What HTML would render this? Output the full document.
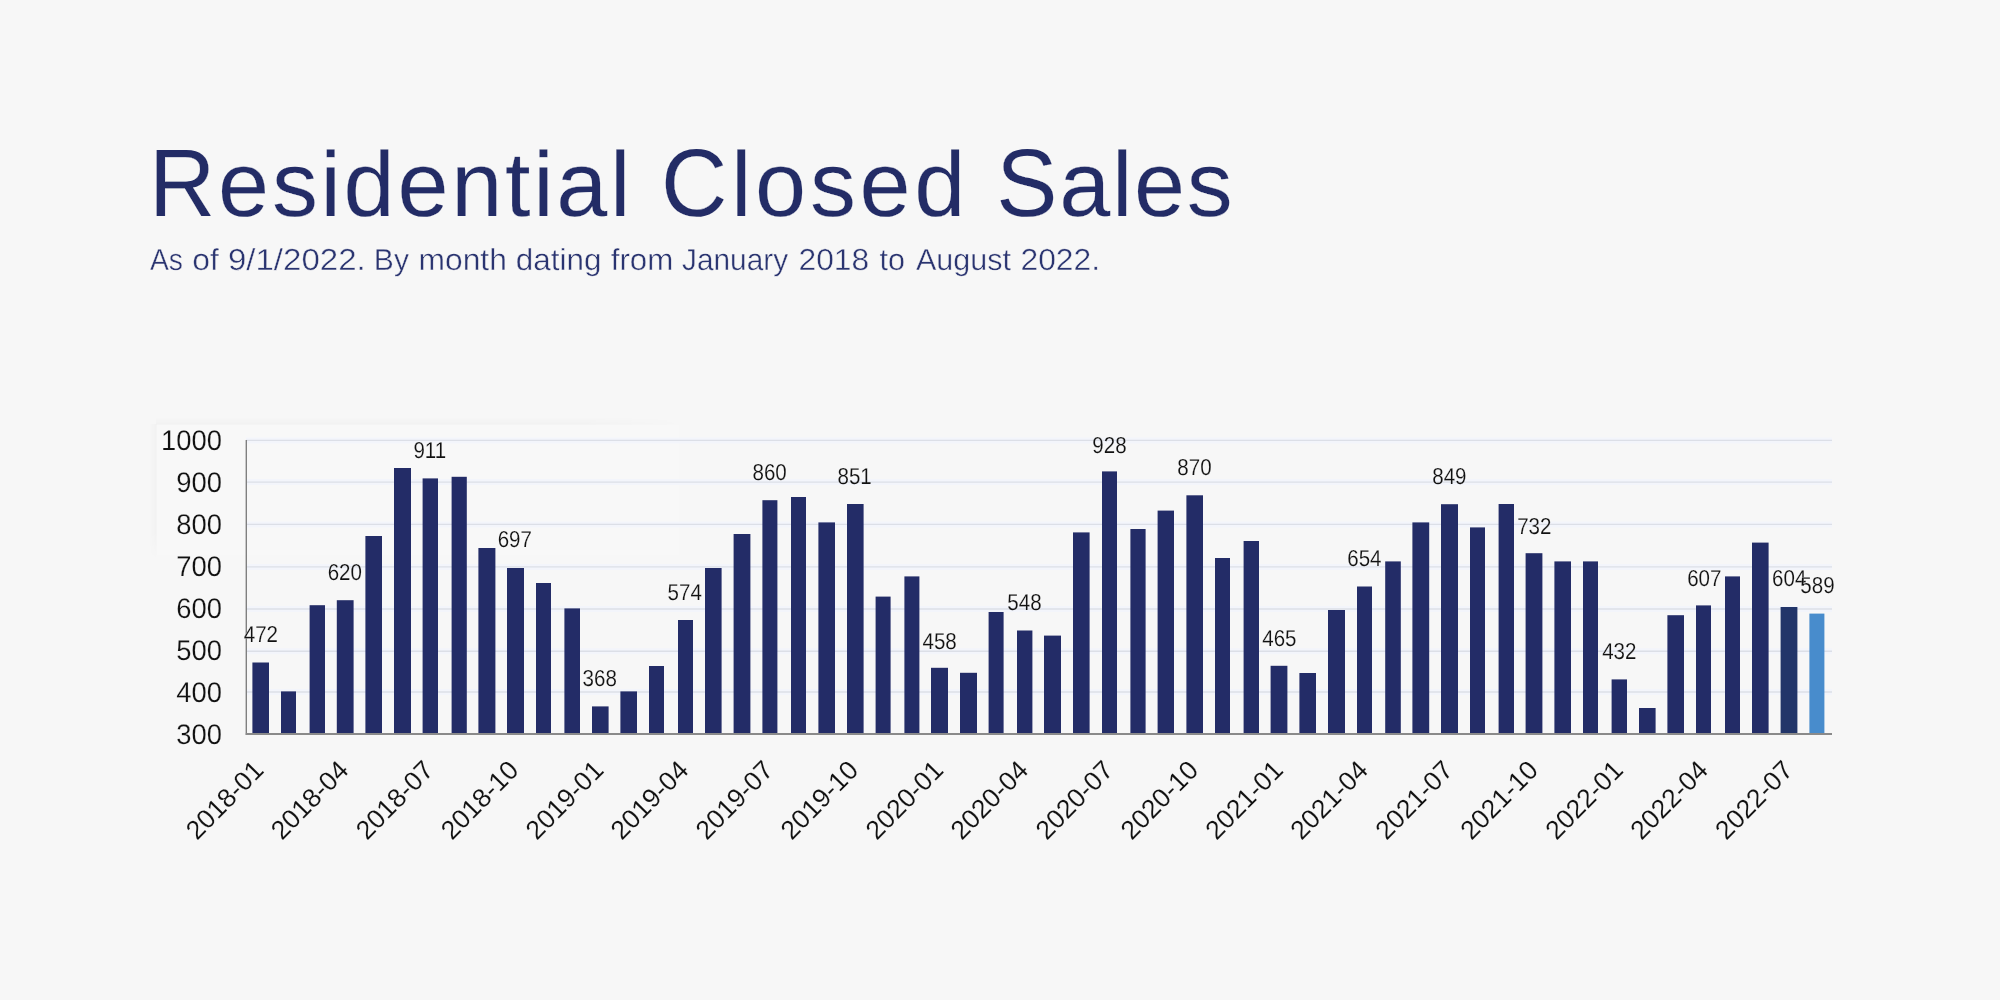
<!DOCTYPE html>
<html lang="en">
<head>
<meta charset="utf-8">
<title>Residential Closed Sales</title>
<style>
html,body{margin:0;padding:0;background:#f7f7f7;}
body{width:2000px;height:1000px;overflow:hidden;position:relative;font-family:"Liberation Sans",sans-serif;}
svg{position:absolute;left:0;top:0;display:block;will-change:transform;filter:blur(0.35px);}
text{font-family:"Liberation Sans",sans-serif;text-rendering:geometricPrecision;}
.title{font-size:91.8px;fill:#232c66;stroke:#f7f7f7;stroke-width:0.2px;}
.sub{font-size:30px;fill:#2a3470;stroke:#f7f7f7;stroke-width:0.4px;}
.ylab{font-size:27.4px;fill:#111;text-anchor:end;stroke:#f7f7f7;stroke-width:0.2px;}
.xlab{font-size:26.5px;fill:#111;text-anchor:end;stroke:#f7f7f7;stroke-width:0.1px;}
.dlab{font-size:23px;fill:#111;text-anchor:middle;stroke:#f7f7f7;stroke-width:0.15px;}
.halo line{stroke:#f3f5fb;stroke-width:6px;}
.grid line{stroke:#dcdfe7;stroke-width:1.4px;}
.bars rect{fill:#232c67;}
</style>
</head>
<body>
<svg width="2000" height="1000" viewBox="0 0 2000 1000">
<rect x="0" y="0" width="2000" height="1000" fill="#f7f7f7"/>
<defs><linearGradient id="sh1" x1="0" y1="0" x2="0" y2="1"><stop offset="0" stop-color="#000" stop-opacity="0"/><stop offset="1" stop-color="#000" stop-opacity="0.022"/></linearGradient><linearGradient id="sh2" x1="0" y1="0" x2="1" y2="0"><stop offset="0" stop-color="#000" stop-opacity="0"/><stop offset="1" stop-color="#000" stop-opacity="0.022"/></linearGradient><linearGradient id="fx" x1="0" y1="0" x2="1" y2="0"><stop offset="0" stop-color="#fff" stop-opacity="1"/><stop offset="0.8" stop-color="#fff" stop-opacity="1"/><stop offset="1" stop-color="#fff" stop-opacity="0"/></linearGradient><linearGradient id="fy" x1="0" y1="0" x2="0" y2="1"><stop offset="0" stop-color="#fff" stop-opacity="1"/><stop offset="0.8" stop-color="#fff" stop-opacity="1"/><stop offset="1" stop-color="#fff" stop-opacity="0"/></linearGradient><mask id="mx"><rect x="150" y="410" width="535" height="20" fill="url(#fx)"/></mask><mask id="my"><rect x="145" y="415" width="20" height="145" fill="url(#fy)"/></mask></defs>
<rect x="156" y="417" width="526" height="7.5" fill="url(#sh1)" mask="url(#mx)"/>
<rect x="149" y="424" width="7.5" height="134" fill="url(#sh2)" mask="url(#my)"/>
<rect x="156.5" y="424.5" width="523" height="131" fill="#fff" fill-opacity="0.12"/>
<text class="title" transform="translate(149.10 215.8) scale(1 1.045)">R</text>
<text class="title" transform="translate(218.11 215.8)" letter-spacing="2.72">esidential</text>
<text class="title" transform="translate(660.90 215.8) scale(1 1.045)">C</text>
<text class="title" transform="translate(730.94 215.8)" letter-spacing="3.75">losed</text>
<text class="title" transform="translate(996.30 215.8) scale(1 1.045)">S</text>
<text class="title" transform="translate(1059.18 215.8)" letter-spacing="1.65">ales</text>
<text class="sub" transform="translate(149.97 269.9) scale(0.9440 1.012)">As</text>
<text class="sub" transform="translate(192.22 269.9) scale(1.0617 1.012)">of</text>
<text class="sub" transform="translate(227.95 269.9) scale(1.1012 1.012)">9/1/2022.</text>
<text class="sub" transform="translate(373.85 269.9) scale(1.0009 1.012)">By</text>
<text class="sub" transform="translate(418.50 269.9) scale(1.0601 1.012)">month</text>
<text class="sub" transform="translate(515.76 269.9) scale(1.0474 1.012)">dating</text>
<text class="sub" transform="translate(610.75 269.9) scale(1.0429 1.012)">from</text>
<text class="sub" transform="translate(682.00 269.9) scale(0.9944 1.012)">January</text>
<text class="sub" transform="translate(798.50 269.9) scale(1.0600 1.012)">2018</text>
<text class="sub" transform="translate(879.52 269.9) scale(1.0184 1.012)">to</text>
<text class="sub" transform="translate(916.00 269.9) scale(1.0172 1.012)">August</text>
<text class="sub" transform="translate(1020.50 269.9) scale(1.0600 1.012)">2022.</text>
<g class="halo">
<line x1="246" y1="440.4" x2="1832" y2="440.4"/>
<line x1="246" y1="482.1" x2="1832" y2="482.1"/>
<line x1="246" y1="524.4" x2="1832" y2="524.4"/>
<line x1="246" y1="566.9" x2="1832" y2="566.9"/>
<line x1="246" y1="609.0" x2="1832" y2="609.0"/>
<line x1="246" y1="651.3" x2="1832" y2="651.3"/>
<line x1="246" y1="692.0" x2="1832" y2="692.0"/>
</g>
<g class="grid">
<line x1="246" y1="440.4" x2="1832" y2="440.4"/>
<line x1="246" y1="482.1" x2="1832" y2="482.1"/>
<line x1="246" y1="524.4" x2="1832" y2="524.4"/>
<line x1="246" y1="566.9" x2="1832" y2="566.9"/>
<line x1="246" y1="609.0" x2="1832" y2="609.0"/>
<line x1="246" y1="651.3" x2="1832" y2="651.3"/>
<line x1="246" y1="692.0" x2="1832" y2="692.0"/>
</g>
<g class="bars">
<rect x="252.4" y="662.5" width="16.6" height="72.0"/>
<rect x="281.0" y="691.4" width="15.0" height="43.1"/>
<rect x="309.6" y="605.2" width="15.4" height="129.3"/>
<rect x="336.8" y="600.2" width="16.8" height="134.3"/>
<rect x="365.4" y="536.0" width="16.6" height="198.5"/>
<rect x="394.0" y="468.0" width="17.0" height="266.5"/>
<rect x="422.6" y="478.4" width="15.4" height="256.1"/>
<rect x="451.6" y="476.8" width="15.2" height="257.7"/>
<rect x="478.4" y="548.0" width="17.0" height="186.5"/>
<rect x="507.0" y="568.0" width="17.0" height="166.5"/>
<rect x="536.0" y="583.0" width="15.0" height="151.5"/>
<rect x="564.4" y="608.4" width="15.6" height="126.1"/>
<rect x="592.0" y="706.4" width="16.6" height="28.1"/>
<rect x="620.4" y="691.4" width="16.6" height="43.1"/>
<rect x="649.0" y="666.0" width="15.0" height="68.5"/>
<rect x="678.0" y="620.0" width="15.0" height="114.5"/>
<rect x="705.0" y="568.0" width="16.6" height="166.5"/>
<rect x="733.6" y="534.0" width="16.8" height="200.5"/>
<rect x="762.4" y="500.2" width="15.0" height="234.3"/>
<rect x="791.0" y="497.0" width="15.0" height="237.5"/>
<rect x="818.4" y="522.4" width="16.6" height="212.1"/>
<rect x="847.0" y="504.0" width="16.6" height="230.5"/>
<rect x="875.6" y="596.6" width="15.0" height="137.9"/>
<rect x="904.4" y="576.4" width="15.0" height="158.1"/>
<rect x="931.0" y="667.8" width="17.0" height="66.7"/>
<rect x="960.0" y="672.8" width="17.0" height="61.7"/>
<rect x="988.6" y="612.0" width="15.0" height="122.5"/>
<rect x="1017.0" y="630.5" width="15.4" height="104.0"/>
<rect x="1044.0" y="635.6" width="17.0" height="98.9"/>
<rect x="1073.0" y="532.4" width="16.6" height="202.1"/>
<rect x="1102.0" y="471.4" width="15.0" height="263.1"/>
<rect x="1130.4" y="529.0" width="15.2" height="205.5"/>
<rect x="1157.6" y="510.6" width="16.4" height="223.9"/>
<rect x="1186.4" y="495.3" width="16.6" height="239.2"/>
<rect x="1215.0" y="558.0" width="15.0" height="176.5"/>
<rect x="1243.6" y="541.0" width="15.4" height="193.5"/>
<rect x="1270.6" y="665.8" width="16.8" height="68.7"/>
<rect x="1299.4" y="673.0" width="16.6" height="61.5"/>
<rect x="1328.0" y="610.0" width="17.0" height="124.5"/>
<rect x="1357.0" y="586.5" width="15.0" height="148.0"/>
<rect x="1385.2" y="561.4" width="15.6" height="173.1"/>
<rect x="1412.4" y="522.4" width="16.8" height="212.1"/>
<rect x="1441.0" y="504.2" width="17.0" height="230.3"/>
<rect x="1470.0" y="527.4" width="15.0" height="207.1"/>
<rect x="1498.6" y="504.0" width="15.4" height="230.5"/>
<rect x="1525.6" y="553.2" width="16.8" height="181.3"/>
<rect x="1554.4" y="561.4" width="16.6" height="173.1"/>
<rect x="1583.0" y="561.4" width="15.0" height="173.1"/>
<rect x="1611.6" y="679.4" width="15.4" height="55.1"/>
<rect x="1639.0" y="708.0" width="16.6" height="26.5"/>
<rect x="1667.4" y="615.2" width="16.6" height="119.3"/>
<rect x="1696.0" y="605.4" width="15.0" height="129.1"/>
<rect x="1725.0" y="576.4" width="15.0" height="158.1"/>
<rect x="1752.0" y="542.6" width="16.6" height="191.9"/>
<rect x="1780.6" y="607.0" width="16.8" height="127.5" style="fill:#223569"/>
<rect x="1809.4" y="613.6" width="15.0" height="120.9" style="fill:#488ccc"/>
</g>
<line x1="246.3" y1="440" x2="246.3" y2="735" stroke="#808080" stroke-width="1.4"/>
<line x1="245.8" y1="734" x2="1832" y2="734" stroke="#8a8a8a" stroke-width="1.8"/>
<text class="ylab" transform="translate(221.9 450.1) scale(1 1.035)">1000</text>
<text class="ylab" transform="translate(221.9 492.1) scale(1 1.035)">900</text>
<text class="ylab" transform="translate(221.9 534.1) scale(1 1.035)">800</text>
<text class="ylab" transform="translate(221.9 576.1) scale(1 1.035)">700</text>
<text class="ylab" transform="translate(221.9 618.1) scale(1 1.035)">600</text>
<text class="ylab" transform="translate(221.9 660.1) scale(1 1.035)">500</text>
<text class="ylab" transform="translate(221.9 702.1) scale(1 1.035)">400</text>
<text class="ylab" transform="translate(221.9 744.1) scale(1 1.035)">300</text>
<text class="dlab" transform="translate(260.9 642.0) scale(0.893 1)">472</text>
<text class="dlab" transform="translate(344.8 580.0) scale(0.893 1)">620</text>
<text class="dlab" transform="translate(429.8 458.0) scale(0.893 1)">911</text>
<text class="dlab" transform="translate(514.8 547.0) scale(0.893 1)">697</text>
<text class="dlab" transform="translate(599.7 686.0) scale(0.893 1)">368</text>
<text class="dlab" transform="translate(684.7 600.0) scale(0.893 1)">574</text>
<text class="dlab" transform="translate(769.6 480.0) scale(0.893 1)">860</text>
<text class="dlab" transform="translate(854.6 484.0) scale(0.893 1)">851</text>
<text class="dlab" transform="translate(939.6 648.5) scale(0.893 1)">458</text>
<text class="dlab" transform="translate(1024.5 610.0) scale(0.893 1)">548</text>
<text class="dlab" transform="translate(1109.5 453.0) scale(0.893 1)">928</text>
<text class="dlab" transform="translate(1194.5 475.0) scale(0.893 1)">870</text>
<text class="dlab" transform="translate(1279.4 645.6) scale(0.893 1)">465</text>
<text class="dlab" transform="translate(1364.4 566.0) scale(0.893 1)">654</text>
<text class="dlab" transform="translate(1449.4 483.5) scale(0.893 1)">849</text>
<text class="dlab" transform="translate(1534.3 534.0) scale(0.893 1)">732</text>
<text class="dlab" transform="translate(1619.3 659.0) scale(0.893 1)">432</text>
<text class="dlab" transform="translate(1704.3 586.3) scale(0.893 1)">607</text>
<text class="dlab" transform="translate(1789.2 586.0) scale(0.893 1)">604</text>
<text class="dlab" transform="translate(1817.5 593.0) scale(0.893 1)">589</text>
<text class="xlab" transform="translate(265.2 771.6) rotate(-45.5)">2018-01</text>
<text class="xlab" transform="translate(350.1 771.6) rotate(-45.5)">2018-04</text>
<text class="xlab" transform="translate(435.1 771.6) rotate(-45.5)">2018-07</text>
<text class="xlab" transform="translate(520.1 771.6) rotate(-45.5)">2018-10</text>
<text class="xlab" transform="translate(605.0 771.6) rotate(-45.5)">2019-01</text>
<text class="xlab" transform="translate(690.0 771.6) rotate(-45.5)">2019-04</text>
<text class="xlab" transform="translate(774.9 771.6) rotate(-45.5)">2019-07</text>
<text class="xlab" transform="translate(859.9 771.6) rotate(-45.5)">2019-10</text>
<text class="xlab" transform="translate(944.9 771.6) rotate(-45.5)">2020-01</text>
<text class="xlab" transform="translate(1029.8 771.6) rotate(-45.5)">2020-04</text>
<text class="xlab" transform="translate(1114.8 771.6) rotate(-45.5)">2020-07</text>
<text class="xlab" transform="translate(1199.8 771.6) rotate(-45.5)">2020-10</text>
<text class="xlab" transform="translate(1284.7 771.6) rotate(-45.5)">2021-01</text>
<text class="xlab" transform="translate(1369.7 771.6) rotate(-45.5)">2021-04</text>
<text class="xlab" transform="translate(1454.7 771.6) rotate(-45.5)">2021-07</text>
<text class="xlab" transform="translate(1539.6 771.6) rotate(-45.5)">2021-10</text>
<text class="xlab" transform="translate(1624.6 771.6) rotate(-45.5)">2022-01</text>
<text class="xlab" transform="translate(1709.6 771.6) rotate(-45.5)">2022-04</text>
<text class="xlab" transform="translate(1794.5 771.6) rotate(-45.5)">2022-07</text>
</svg>
</body>
</html>
